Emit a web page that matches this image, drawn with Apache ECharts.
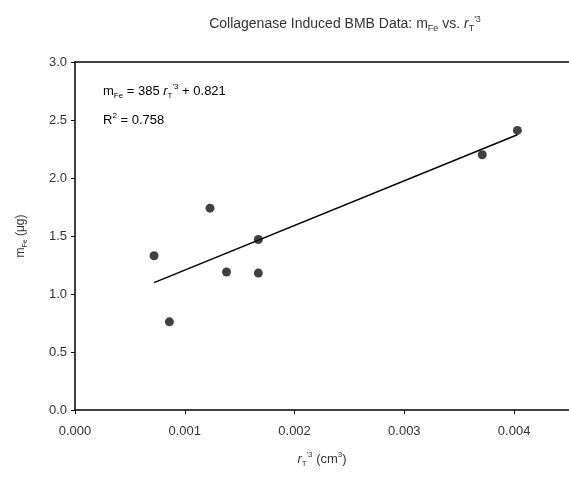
<!DOCTYPE html>
<html>
<head>
<meta charset="utf-8">
<script src="https://cdn.jsdelivr.net/npm/echarts@6/dist/echarts.min.js"></script>
<style>html,body{margin:0;padding:0;background:#fff}#c{width:569px;height:481px}</style>
</head>
<body>
<div id="c"></div>
<script>
var xValues = [0.00072, 0.00086, 0.00123, 0.00138, 0.00167, 0.00167, 0.00371, 0.00403];
var yValues = [1.33, 0.76, 1.74, 1.19, 1.47, 1.18, 2.20, 2.41];
var fitSlope = 385;
var fitIntercept = 0.821;
var rSquared = 0.758;
var yTicks = [0, 0.5, 1.0, 1.5, 2.0, 2.5, 3.0];
var xTicks = [0, 0.001, 0.002, 0.003, 0.004];

var points = xValues.map(function (x, i) { return [x, yValues[i]]; });
var xMin = Math.min.apply(null, xValues), xMax = Math.max.apply(null, xValues);
var fitLine = [[xMin, fitSlope * xMin + fitIntercept], [xMax, fitSlope * xMax + fitIntercept]];

var FONT = 'Liberation Sans, Arial, sans-serif';
var TXT = '#333';
function richSet(size) {
  var s = Math.round(size * 0.62);
  return {
    t: { fontSize: size, fontFamily: FONT, fontWeight: 'normal', color: TXT, lineHeight: size + 4, verticalAlign: 'middle' },
    it: { fontSize: size, fontFamily: FONT, fontWeight: 'normal', fontStyle: 'italic', color: TXT, lineHeight: size + 4, verticalAlign: 'middle' },
    sub: { fontSize: s, fontFamily: FONT, fontWeight: 'normal', color: TXT, verticalAlign: 'bottom', lineHeight: s },
    sup: { fontSize: s, fontFamily: FONT, fontWeight: 'normal', color: TXT, verticalAlign: 'top', lineHeight: s }
  };
}

var chart = echarts.init(document.getElementById('c'));
chart.setOption({
  animation: false,
  backgroundColor: '#fff',
  title: {
    text: '{t|Collagenase Induced BMB Data: m}{sub|Fe}{t| vs. }{it|r}{sub|T}{sup|\'3}',
    left: 340, top: 10, textAlign: 'center',
    textStyle: { rich: richSet(14), fontSize: 14, fontWeight: 'normal' }
  },
  grid: { left: 75, right: 0, top: 62, bottom: 71 },
  xAxis: [{
    type: 'value', min: 0, max: 0.0045, interval: 0.001,
    axisLine: { lineStyle: { color: '#000', width: 1.5 } },
    axisTick: { show: true, length: 4, lineStyle: { color: '#000' } },
    splitLine: { show: false },
    axisLabel: {
      margin: 15, color: TXT, fontFamily: FONT, fontSize: 13, showMaxLabel: false,
      formatter: function (v) { return xTicks.indexOf(Math.round(v * 1e4) / 1e4) >= 0 ? v.toFixed(3) : ''; }
    },
    name: '{it|r}{sub|T}{sup|\'3}{t| (cm}{sup|3}{t|)}',
    nameLocation: 'middle', nameGap: 41,
    nameTextStyle: { rich: richSet(13) }
  }, {
    type: 'value', position: 'top', min: 0, max: 0.0045,
    axisLine: { show: true, onZero: false, lineStyle: { color: '#000', width: 1.5 } },
    axisTick: { show: false }, axisLabel: { show: false }, splitLine: { show: false }
  }],
  yAxis: {
    type: 'value', min: 0, max: 3, interval: 0.5,
    axisLine: { show: true, lineStyle: { color: '#000', width: 1.5 } },
    axisTick: { show: true, length: 4, lineStyle: { color: '#000' } },
    splitLine: { show: false },
    axisLabel: { margin: 8, color: TXT, fontFamily: FONT, fontSize: 13, formatter: function (v) { return v.toFixed(1); } },
    name: '{t|m}{sub|Fe}{t| (μg)}',
    nameLocation: 'middle', nameGap: 46, nameRotate: 90,
    nameTextStyle: { rich: richSet(12) }
  },
  graphic: [{
    type: 'text', left: 103, top: 83,
    style: {
      text: '{t|m}{sub|Fe}{t| = ' + fitSlope + ' }{it|r}{sub|T}{sup|\'3}{t| + ' + fitIntercept + '}',
      rich: richSet(13)
    }
  }, {
    type: 'text', left: 103, top: 112,
    style: {
      text: '{t|R}{sup|2}{t| = ' + rSquared + '}',
      rich: richSet(13)
    }
  }],
  series: [{
    type: 'line', data: fitLine, showSymbol: false, symbol: 'none',
    lineStyle: { color: '#000', width: 1.5 }, z: 2
  }, {
    type: 'scatter', data: points, symbol: 'circle', symbolSize: 9,
    itemStyle: { color: '#111' }, z: 3
  }]
});
</script>
</body>
</html>
